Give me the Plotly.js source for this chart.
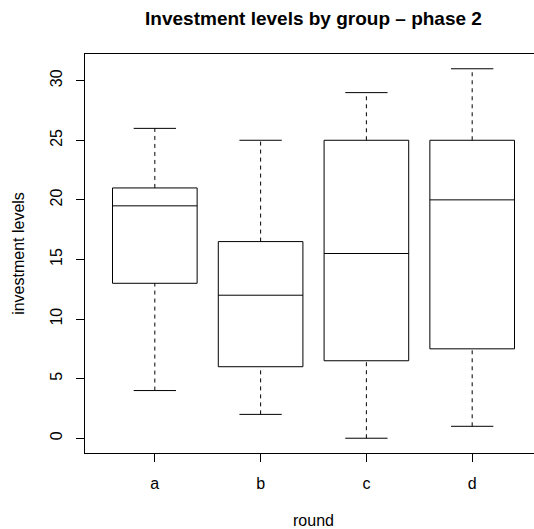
<!DOCTYPE html>
<html><head><meta charset="utf-8">
<script src="https://cdn.plot.ly/plotly-3.0.1.min.js"></script>
<style>html,body{margin:0;padding:0;overflow:hidden;background:#fff;}#chart{width:545px;height:529px;}</style>
</head><body><div id="chart"></div>
<script>
var categories = ["a", "b", "c", "d"];
var minVals    = [4, 2, 0, 1];
var q1Vals     = [13, 6, 6.5, 7.5];
var medianVals = [19.5, 12, 15.5, 20];
var q3Vals     = [21, 16.5, 25, 25];
var maxVals    = [26, 25, 29, 31];
var yTicks     = [0, 5, 10, 15, 20, 25, 30];

var pos = categories.map(function(c, i){ return i + 1; });
var boxW = 0.8, capW = 0.4;

var traces = [{
  type: "box",
  x: pos,
  q1: q1Vals, median: medianVals, q3: q3Vals,
  lowerfence: q1Vals, upperfence: q3Vals,
  width: boxW,
  whiskerwidth: 0,
  fillcolor: "rgba(255,255,255,0)",
  line: {color: "#000", width: 1},
  hoverinfo: "skip",
  showlegend: false
}];

var wx = [], wy = [], cx = [], cy = [];
pos.forEach(function(p, i){
  wx.push(p, p, null, p, p, null);
  wy.push(minVals[i], q1Vals[i], null, q3Vals[i], maxVals[i], null);
  cx.push(p - capW/2, p + capW/2, null, p - capW/2, p + capW/2, null);
  cy.push(minVals[i], minVals[i], null, maxVals[i], maxVals[i], null);
});
traces.push({type: "scatter", mode: "lines", x: wx, y: wy,
  line: {color: "#000", width: 1, dash: "4px,4px"}, hoverinfo: "skip", showlegend: false});
traces.push({type: "scatter", mode: "lines", x: cx, y: cy,
  line: {color: "#000", width: 1}, hoverinfo: "skip", showlegend: false});

var font = {family: "Liberation Sans, Arial, sans-serif", size: 16, color: "#000"};
var layout = {
  width: 545, height: 529,
  margin: {l: 85, r: 3, t: 54, b: 76},
  paper_bgcolor: "#fff", plot_bgcolor: "#fff",
  font: font,
  showlegend: false,
  title: {text: "<b>Investment levels by group \u2013 phase 2</b>",
    font: {family: "Liberation Sans, Arial, sans-serif", size: 19, color: "#000"},
    x: 0.5, xref: "paper", xanchor: "center",
    y: 1 - 18/529, yref: "container", yanchor: "middle"},
  xaxis: {
    range: [0.34, 4.66], tickvals: pos, ticktext: categories,
    showgrid: false, zeroline: false,
    showline: true, linecolor: "#000", linewidth: 1, mirror: true,
    ticks: "outside", ticklen: 8, tickcolor: "#000", tickwidth: 1,
    ticklabelstandoff: 8,
    tickfont: font,
    title: {text: "round", font: font, standoff: 30},
    automargin: false
  },
  yaxis: {
    range: [-1.24, 32.24], tickvals: yTicks,
    showgrid: false, zeroline: false,
    showline: true, linecolor: "#000", linewidth: 1, mirror: true,
    ticks: "outside", ticklen: 8, tickcolor: "#000", tickwidth: 1,
    tickangle: -90, ticklabelstandoff: 8,
    tickfont: font,
    title: {text: "investment levels", font: font, standoff: 18},
    automargin: false
  }
};
Plotly.newPlot("chart", traces, layout, {displayModeBar: false, staticPlot: true});
</script></body></html>
